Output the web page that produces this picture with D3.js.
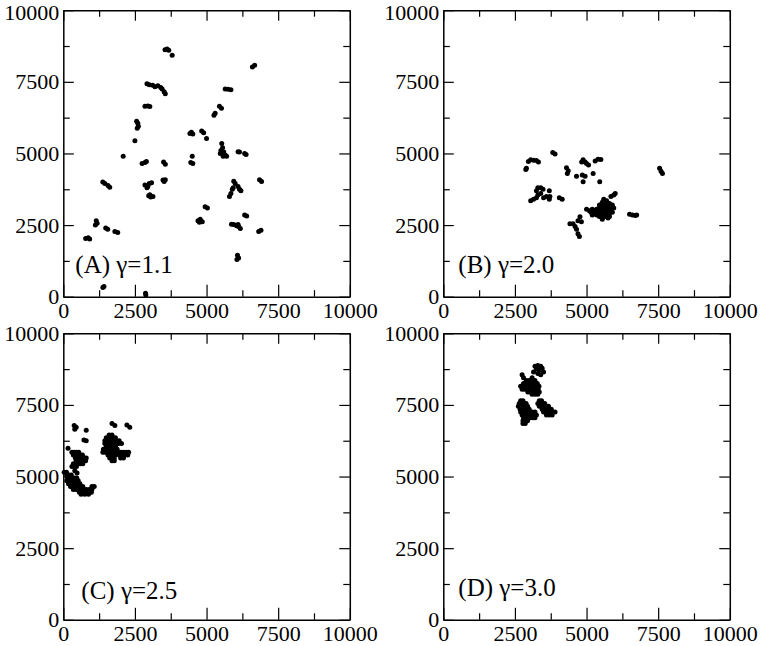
<!DOCTYPE html>
<html>
<head>
<meta charset="utf-8">
<script src="https://cdn.jsdelivr.net/npm/d3@7"></script>
<style>
  body { margin: 0; background: #fff; }
</style>
</head>
<body>
<script>

// data //
const majorTicks = [0, 2500, 5000, 7500, 10000];
const minorTicks = [1250, 3750, 6250, 8750];
const panelLabels = ["(A) \u03b3=1.1", "(B) \u03b3=2.0", "(C) \u03b3=2.5", "(D) \u03b3=3.0"];

const pointsA = [
  [3550,8620],[3620,8650],[3680,8600],[3800,8430],
  [6600,8020],[6680,8080],
  [2920,7430],[3000,7400],[3120,7380],[3200,7330],[3300,7360],[3400,7300],[3450,7250],[3520,7150],[3560,7080],
  [2850,6650],[2950,6660],[3020,6640],
  [5650,7250],[5750,7240],[5850,7220],
  [5450,6650],[5520,6580],[5300,6400],[5260,6330],
  [2560,6120],[2600,6050],[2620,5950],[2580,5880],
  [2500,5440],
  [4420,5700],[4520,5680],[4470,5740],[4830,5780],[4900,5720],[5000,5520],
  [5530,5350],[5560,5200],[5500,5100],[5600,5050],[5650,4950],[5580,4900],[5700,4900],[5480,5000],
  [6100,5060],[6150,5050],[6330,5000],[6380,4960],
  [2090,4900],
  [2750,4650],[2850,4680],[2900,4720],
  [3500,4700],[3560,4620],
  [4450,4680],[4520,4650],[4500,4900],
  [1380,4000],[1450,3950],[1560,3880],[1620,3820],
  [2850,3900],[2920,3800],[3000,3950],[3080,3980],[2950,3850],
  [2980,3520],[3050,3480],[3130,3500],[3020,3560],
  [3480,4070],[3560,4080],[3520,4020],
  [5950,4030],[6000,3950],[6100,3850],[6150,3750],[6200,3700],[5900,3750],[5850,3600],[5800,3500],[5930,3800],
  [6850,4080],[6920,4020],
  [4950,3140],[5030,3100],
  [4700,2650],[4780,2700],[4850,2620],[4750,2600],
  [5870,2530],[5950,2520],[6050,2480],[6120,2450],[6180,2380],[6100,2520],
  [6330,2850],[6400,2820],
  [6820,2280],[6900,2320],
  [1150,2650],[1120,2500],[1180,2560],
  [1480,2400],[1550,2350],
  [1800,2280],[1900,2240],
  [780,2030],[870,2060],[920,2010],
  [6080,1450],[6120,1350],[6060,1300],
  [1380,320],[1420,360],
  [2870,120],[2880,60]
];

const pointsB = [
  [2900,4480],[2880,4440],[2970,4720],[3050,4780],[3150,4760],[3250,4750],[3320,4700],
  [3820,5030],[3900,4980],
  [4300,4500],[4360,4400],[4330,4300],
  [4830,4700],[4880,4780],[4950,4700],[5000,4650],[5070,4600],
  [4850,4250],[4950,4200],[5230,4300],[4880,4010],[5460,4010],[4650,4200],
  [5300,4740],[5400,4800],[5500,4790],
  [3050,3350],[3150,3400],[3250,3450],[3300,3550],[3250,3700],[3300,3800],[3400,3800],[3480,3750],
  [3400,3600],[3500,3450],[3600,3500],[3700,3700],[3720,3500],[3700,3400],
  [4050,3450],[4150,3400],
  [5100,3000],[5150,2950],[5200,3050],[5250,2900],[5300,3000],[5350,3050],[5400,2950],[5450,3100],
  [5500,3000],[5550,3150],[5600,3050],[5650,3200],[5700,3100],[5750,3000],[5800,2900],[5850,3050],
  [5900,2950],[5950,3100],[5600,2900],[5650,2800],[5700,2850],[5750,2750],[5500,2850],[5450,2800],
  [5550,3300],[5600,3400],[5700,3350],[5800,3250],[5850,3500],[5950,3550],[6000,3600],[5900,3200],
  [5800,2800],[5550,2700],[5350,2850],[5200,2850],[5000,3050],[5650,2950],[5750,3150],[5450,3200],
  [4420,2550],[4530,2550],[4600,2450],[4650,2350],[4700,2200],[4750,2100],[4700,2650],[4770,2790],[4820,2620],
  [6500,2880],[6600,2850],[6700,2830],[6750,2850],
  [7550,4480],[7600,4380],[7650,4300]
];

const pointsC = [
  [380,6780],[450,6720],[400,6650],
  [800,6620],[720,6280],[800,6250],[165,5985],
  [300,5850],[380,5850],[460,5850],[540,5850],
  [350,5750],[430,5750],[510,5750],[590,5750],[670,5750],
  [420,5650],[500,5650],[580,5650],[660,5650],[740,5650],[800,5650],
  [450,5550],[530,5550],[610,5550],[700,5550],[780,5550],
  [350,5450],[430,5450],[520,5450],[600,5450],[680,5450],
  [300,5350],[380,5350],[460,5350],
  [400,5200],[480,5120],
  [30,5150],[110,5150],
  [120,5050],[200,5050],[280,5050],
  [150,4950],[230,4950],[310,4950],[390,4950],[470,4950],
  [120,4850],[200,4850],[280,4850],[360,4850],[440,4850],[520,4850],
  [180,4750],[260,4750],[340,4750],[420,4750],[500,4750],[580,4750],
  [250,4650],[330,4650],[420,4650],[520,4650],[600,4650],[680,4650],[1000,4650],[1080,4650],
  [350,4550],[450,4550],[560,4550],[640,4550],[720,4550],[800,4550],[900,4550],[1000,4550],
  [560,4450],[640,4450],[720,4450],[800,4450],[900,4450],[980,4450],
  [620,4380],[750,4380],[880,4380],
  [1700,6850],[1800,6780],[2220,6800],[2320,6720],
  [1600,6450],[1700,6450],
  [1500,6350],[1580,6350],[1660,6350],[1740,6350],[1820,6350],
  [1450,6250],[1530,6250],[1610,6250],[1690,6250],[1770,6250],[1850,6250],[1950,6250],
  [1450,6150],[1530,6150],[1610,6150],[1690,6150],[1770,6150],[1850,6150],[1930,6150],[2030,6150],
  [1500,6050],[1580,6050],[1660,6050],[1740,6050],[1820,6050],
  [1400,5950],[1480,5950],[1560,5950],[1640,5950],[1720,5950],[1800,5950],[1880,5950],
  [1380,5850],[1460,5850],[1620,5850],[1700,5850],[1780,5850],[1860,5850],[1940,5850],[2020,5850],[2100,5850],[2200,5850],[2280,5850],
  [1560,5750],[1640,5750],[1720,5750],[1800,5750],[1950,5750],[2050,5750],[2150,5750],[2250,5750],
  [1620,5650],[1700,5650],[1780,5650],[2000,5650],[2100,5650],
  [1700,5550],[1780,5550]
];

const pointsD = [
  [3200,8850],[3300,8880],[3400,8850],[3450,8780],[3250,8750],[3350,8720],[3500,8650],[3150,8650],[3300,8600],[3400,8550],
  [2750,8550],
  [2800,8450],[3100,8450],
  [2900,8350],[3000,8350],[3100,8350],[3200,8350],
  [2800,8250],[2880,8250],[2960,8250],[3040,8250],[3120,8250],[3200,8250],[3280,8250],
  [2700,8150],[2780,8150],[2860,8150],[2940,8150],[3020,8150],[3100,8150],[3180,8150],[3260,8150],[3340,8150],
  [2750,8050],[2830,8050],[2910,8050],[2990,8050],[3070,8050],[3150,8050],[3230,8050],[3310,8050],
  [2950,7950],[3030,7950],[3110,7950],[3190,7950],[3270,7950],[3350,7950],
  [3100,7870],[3200,7870],[3300,7870],
  [2700,7650],[2780,7650],
  [2650,7550],[2730,7550],[2810,7550],[2890,7550],
  [2620,7450],[2700,7450],[2780,7450],[2860,7450],[2940,7450],
  [2680,7350],[2760,7350],[2840,7350],[2920,7350],[3000,7350],
  [2700,7250],[2780,7250],[2860,7250],[2940,7250],[3100,7250],[3200,7250],
  [2750,7150],[2830,7150],[2910,7150],[2990,7150],[3070,7150],[3150,7150],[3250,7150],
  [2800,7050],[2880,7050],[2960,7050],[3040,7050],[3120,7050],[3200,7050],
  [2780,6950],[2860,6950],[2940,6950],
  [2780,6850],[2860,6850],
  [3350,7650],[3430,7650],
  [3300,7550],[3380,7550],[3460,7550],[3540,7550],
  [3350,7450],[3430,7450],[3510,7450],[3590,7450],[3670,7450],
  [3450,7350],[3530,7350],[3610,7350],[3690,7350],[3770,7350],
  [3500,7250],[3580,7250],[3660,7250],[3740,7250],[3820,7250],[3900,7250],
  [3600,7150],[3700,7150],[3800,7150]
];

// layout //
const size = 286.5;
const panels = [
  { label: panelLabels[0], pts: pointsA, left: 63.3, top: 10.2,  lx: 12, ly: 24 },
  { label: panelLabels[1], pts: pointsB, left: 443.3, top: 10.2, lx: 15, ly: 24 },
  { label: panelLabels[2], pts: pointsC, left: 63.3, top: 333.3, lx: 18, ly: 21 },
  { label: panelLabels[3], pts: pointsD, left: 443.3, top: 333.3, lx: 15, ly: 24 }
];

const svg = d3.select('body')
  .append('svg')
  .attr('width', 762)
  .attr('height', 646);

const font = '"Liberation Serif", "Times New Roman", serif';

function styleAxis(sel) {
  sel.attr('font-family', font).attr('font-size', 22);
  sel.selectAll('text').attr('fill', '#000');
  sel.selectAll('line').attr('stroke', '#000').attr('stroke-width', 1.2);
  sel.select('.domain').attr('stroke', '#000').attr('stroke-width', 1.5);
}

panels.forEach(p => {
  const x = d3.scaleLinear().domain([0, 10000]).range([0, size]);
  const y = d3.scaleLinear().domain([0, 10000]).range([size, 0]);

  const g = svg.append('g')
    .attr('transform', 'translate(' + p.left + ',' + p.top + ')');

  // scatter points
  g.append('g')
    .selectAll('circle')
    .data(p.pts)
    .join('circle')
    .attr('cx', d => x(d[0]))
    .attr('cy', d => y(d[1]))
    .attr('r', 2.5)
    .attr('fill', '#000');

  // minor ticks, all sides
  const minor = [
    [d3.axisBottom(x), 'translate(0,' + size + ')'],
    [d3.axisTop(x), 'translate(0,0)'],
    [d3.axisLeft(y), 'translate(0,0)'],
    [d3.axisRight(y), 'translate(' + size + ',0)']
  ];
  minor.forEach(([ax, tr]) => {
    g.append('g')
      .attr('transform', tr)
      .call(ax.tickValues(minorTicks).tickSizeInner(-6.5).tickSizeOuter(0).tickFormat(''))
      .call(styleAxis)
      .select('.domain').remove();
  });

  // major ticks, labelled bottom and left
  g.append('g')
    .attr('transform', 'translate(0,' + size + ')')
    .call(d3.axisBottom(x).tickValues(majorTicks).tickSizeInner(-12).tickSizeOuter(0).tickPadding(6).tickFormat(d3.format('d')))
    .call(styleAxis);

  const left = g.append('g')
    .call(d3.axisLeft(y).tickValues(majorTicks).tickSizeInner(-10.5).tickSizeOuter(0).tickPadding(4).tickFormat(d3.format('d')))
    .call(styleAxis);

  // top label of the upper row sits against the page edge, nudge it in
  if (p.top < 20) {
    left.selectAll('.tick')
      .filter(d => d === 10000)
      .select('text')
      .attr('dy', '0.43em');
  }

  g.append('g')
    .call(d3.axisTop(x).tickValues(majorTicks).tickSizeInner(-10.5).tickSizeOuter(0).tickFormat(''))
    .call(styleAxis);

  g.append('g')
    .attr('transform', 'translate(' + size + ',0)')
    .call(d3.axisRight(y).tickValues(majorTicks).tickSizeInner(-10.5).tickSizeOuter(0).tickFormat(''))
    .call(styleAxis);

  // panel label
  g.append('text')
    .attr('x', p.lx)
    .attr('y', size - p.ly)
    .attr('font-family', font)
    .attr('font-size', 25)
    .attr('fill', '#000')
    .text(p.label);
});

</script>
</body>
</html>
